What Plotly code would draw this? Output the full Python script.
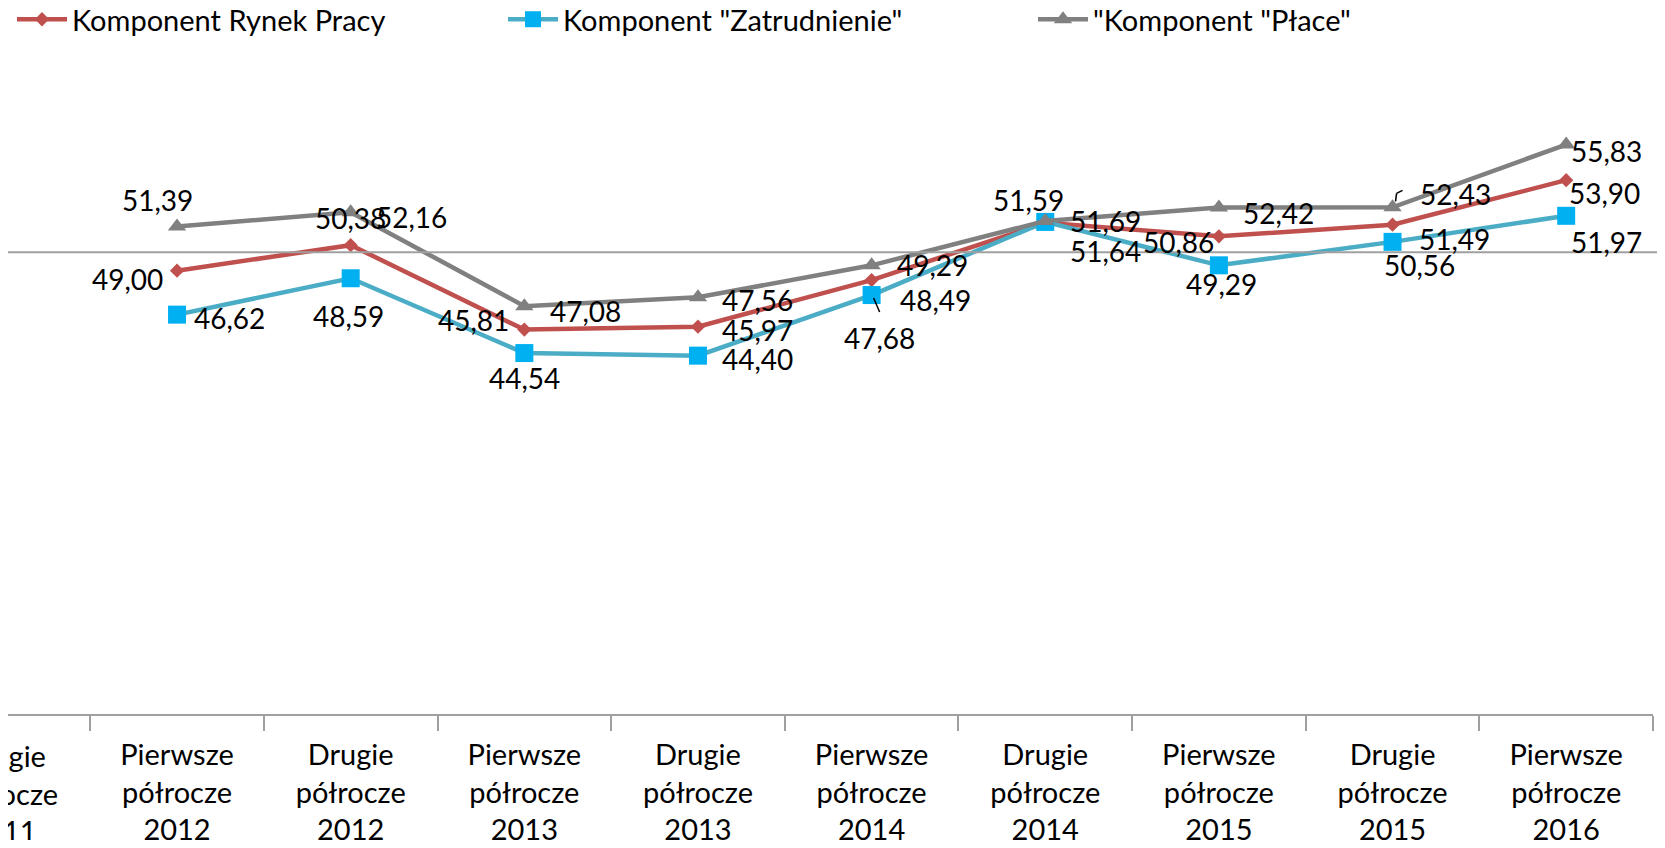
import plotly.graph_objects as go

# categories (first one is cut off on the left, no data there)
categories = [
    "Drugie<br>półrocze<br>2011",
    "Pierwsze<br>półrocze<br>2012",
    "Drugie<br>półrocze<br>2012",
    "Pierwsze<br>półrocze<br>2013",
    "Drugie<br>półrocze<br>2013",
    "Pierwsze<br>półrocze<br>2014",
    "Drugie<br>półrocze<br>2014",
    "Pierwsze<br>półrocze<br>2015",
    "Drugie<br>półrocze<br>2015",
    "Pierwsze<br>półrocze<br>2016",
]

rynek_pracy = [None, 49.00, 50.38, 45.81, 45.97, 48.49, 51.59, 50.86, 51.49, 53.90]
zatrudnienie = [None, 46.62, 48.59, 44.54, 44.40, 47.68, 51.64, 49.29, 50.56, 51.97]
place = [None, 51.39, 52.16, 47.08, 47.56, 49.29, 51.69, 52.42, 52.43, 55.83]

names = ['Komponent Rynek Pracy', 'Komponent "Zatrudnienie"', '"Komponent "Płace"']

FONT = "Lato"
FS = 28      # data labels
FS_AX = 29   # legend and axis labels

# label offsets (dx, dy) in px, dy downwards
red_off = [None, (-50, 8), (0, -27), (-51, -10), (60, 3), (64, 20), (-17, -23), (-40, 6), (62, 14), (38, 13)]
blue_off = [None, (52, 3), (-2, 38), (0, 25), (60, 3), (8, 43), (60, 29), (3, 19), (27, 23), (40, 26)]
gray_off = [None, (-20, -27), (61, 5), (61, 5), (60, 3), (61, 0), (60, 0), (60, 5), (63, -13), (40, 6)]

fig = go.Figure()

fig.add_trace(go.Scatter(x=categories, y=rynek_pracy, name=names[0], mode="lines+markers",
                         line=dict(color="#C0504D", width=4.5),
                         marker=dict(symbol="diamond", size=11, color="#C0504D"),
                         legend="legend", showlegend=True))
fig.add_trace(go.Scatter(x=categories, y=zatrudnienie, name=names[1], mode="lines+markers",
                         line=dict(color="#4BACC6", width=4.5),
                         marker=dict(symbol="square", size=18, color="#00B0F0"),
                         legend="legend2", showlegend=True))
fig.add_trace(go.Scatter(x=categories, y=place, name=names[2], mode="lines+markers",
                         line=dict(color="#808080", width=4.5),
                         marker=dict(symbol="triangle-up", size=16, color="#808080"),
                         legend="legend3", showlegend=True))


def fmt(v):
    return f"{v:.2f}".replace(".", ",")


for values, offs in [(rynek_pracy, red_off), (zatrudnienie, blue_off), (place, gray_off)]:
    for cat, v, off in zip(categories, values, offs):
        if v is None:
            continue
        fig.add_annotation(x=cat, y=v, text=fmt(v), showarrow=False,
                           xshift=off[0], yshift=-off[1],
                           font=dict(family=FONT, size=FS, color="black"))

# small leader lines of two moved labels
leader = dict(type="line", xref="x", yref="y", xsizemode="pixel", ysizemode="pixel",
              line=dict(color="black", width=1.5))
fig.add_shape(xanchor=categories[5], yanchor=zatrudnienie[5], x0=2, y0=-3, x1=8, y1=-17, **leader)
fig.add_shape(xanchor=categories[8], yanchor=place[8], x0=3, y0=6, x1=4, y1=14, **leader)
fig.add_shape(xanchor=categories[8], yanchor=place[8], x0=4, y0=14, x1=10, y1=17, **leader)

# reference line at 50
fig.add_shape(type="line", xref="paper", yref="y", x0=0, x1=1.004, y0=50, y1=50,
              line=dict(color="#A0A0A0", width=2))

# first category label is cut by the left edge; plotly drops it, so draw it here
fig.add_annotation(xref="paper", yref="paper", x=0, y=0, xanchor="center", yanchor="top",
                   xshift=-5, yshift=-22, showarrow=False, text=categories[0],
                   font=dict(family=FONT, size=FS_AX, color="black"))

PLOT_W = 1645
legend_style = dict(orientation="h", yanchor="top", y=1.02, xanchor="left",
                    bgcolor="rgba(0,0,0,0)", font=dict(family=FONT, size=FS_AX, color="black"),
                    itemwidth=50)

# the page body adds an 8px margin, so the figure is sized to fit the window
fig.update_layout(
    width=1649, height=832, autosize=False,
    margin=dict(l=0, r=4, t=0, b=126, autoexpand=False),
    plot_bgcolor="white", paper_bgcolor="white",
    font=dict(family=FONT, size=FS, color="black"),
    showlegend=True,
    legend=dict(x=4 / PLOT_W, **legend_style),
    legend2=dict(x=495 / PLOT_W, **legend_style),
    legend3=dict(x=1025 / PLOT_W, **legend_style),
)

fig.update_xaxes(type="category", range=[0.0265, 9.5], showgrid=False, zeroline=False,
                 automargin=False,
                 showline=True, linecolor="#A0A0A0", linewidth=2,
                 ticks="outside", tickson="boundaries", ticklen=15, tickcolor="#A0A0A0", tickwidth=2,
                 tickfont=dict(family=FONT, size=FS_AX, color="black"), ticklabelstandoff=14)
fig.update_yaxes(range=[25, 63.22], visible=False, showgrid=False, zeroline=False, automargin=False)

fig.write_html("out.html")
